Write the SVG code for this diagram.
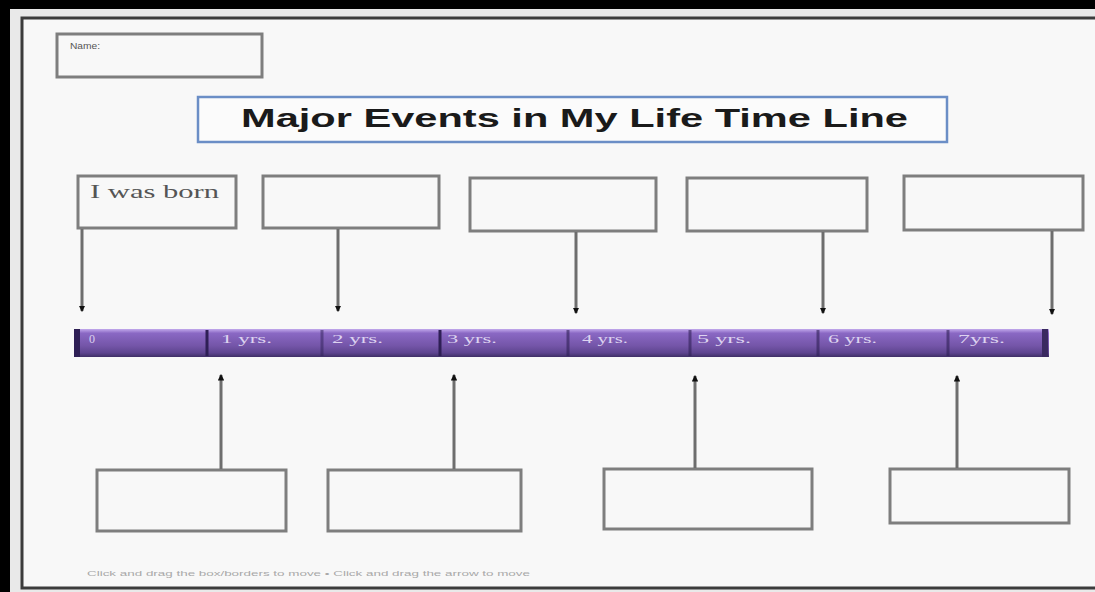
<svg xmlns="http://www.w3.org/2000/svg" width="1095" height="592" viewBox="0 0 1095 592">
<style>
.box{fill:#f8f8f8;stroke:#7e7e7e;stroke-width:3}
.conn{stroke:#6e6e6e;stroke-width:3;fill:none}
.lbl{font-family:"Liberation Serif",serif;font-size:12px;fill:#ddd3f0}
.tick{stroke:#2e1f55;stroke-width:3}
</style>
<defs>
<linearGradient id="bar" x1="0" y1="0" x2="0" y2="1">
<stop offset="0" stop-color="#c2a9ec"/>
<stop offset="0.15" stop-color="#8a68c4"/>
<stop offset="0.6" stop-color="#7455a8"/>
<stop offset="0.85" stop-color="#5e4590"/>
<stop offset="1" stop-color="#3f2f66"/>
</linearGradient>
<marker id="ah" viewBox="0 0 6 6" refX="5" refY="3" markerWidth="2.2" markerHeight="2.2" orient="auto" markerUnits="strokeWidth">
<path d="M0,0 L6,3 L0,6 Z" fill="#111"/>
</marker>
</defs>
<rect x="0" y="0" width="1095" height="592" fill="#000"/>
<rect x="10" y="9" width="1085" height="583" fill="#e9e9e9"/>
<rect x="22" y="18" width="1080" height="570" fill="#f8f8f8" stroke="#3c3c3c" stroke-width="3"/>

<g id="name-box">
<rect class="box" x="57" y="34" width="205" height="43"/>
<text x="70" y="49" font-family="Liberation Sans,sans-serif" font-size="9" fill="#555" textLength="30" lengthAdjust="spacingAndGlyphs">Name:</text>
</g>

<g id="title">
<rect x="198" y="97" width="749" height="45" fill="#fbfbfb" stroke="#6b8ec6" stroke-width="2.5"/>
<text x="241" y="127" font-family="Liberation Sans,sans-serif" font-weight="bold" font-size="26" fill="#1a1a1a" textLength="667" lengthAdjust="spacingAndGlyphs">Major Events in My Life Time Line</text>
</g>

<g id="top-box-1">
<rect class="box" x="78" y="176" width="158" height="52"/>
<text x="90" y="198" font-family="Liberation Serif,serif" font-size="18" fill="#555" textLength="129" lengthAdjust="spacingAndGlyphs">I was born</text>
</g>
<g id="top-box-2"><rect class="box" x="263" y="176" width="176" height="52"/></g>
<g id="top-box-3"><rect class="box" x="470" y="178" width="186" height="53"/></g>
<g id="top-box-4"><rect class="box" x="687" y="178" width="180" height="53"/></g>
<g id="top-box-5"><rect class="box" x="904" y="176" width="179" height="54"/></g>

<g id="timeline">
<rect x="74" y="329" width="975" height="28" fill="url(#bar)"/>
<rect x="74" y="329" width="6" height="28" fill="#2e1f55"/>
<rect x="1042" y="329" width="6" height="28" fill="#3a2a60"/>
<line class="tick" x1="207" y1="330" x2="207" y2="356"/>
<line class="tick" x1="322" y1="330" x2="322" y2="356" stroke-opacity="0.5"/>
<line class="tick" x1="440" y1="330" x2="440" y2="356"/>
<line class="tick" x1="568" y1="330" x2="568" y2="356" stroke-opacity="0.6"/>
<line class="tick" x1="690" y1="330" x2="690" y2="356" stroke-opacity="0.6"/>
<line class="tick" x1="818" y1="330" x2="818" y2="356" stroke-opacity="0.6"/>
<line class="tick" x1="948" y1="330" x2="948" y2="356" stroke-opacity="0.6"/>
<text class="lbl" x="89" y="343">0</text>
<text class="lbl" x="221" y="343" textLength="51" lengthAdjust="spacingAndGlyphs">1 yrs.</text>
<text class="lbl" x="332" y="343" textLength="51" lengthAdjust="spacingAndGlyphs">2 yrs.</text>
<text class="lbl" x="447" y="343" textLength="50" lengthAdjust="spacingAndGlyphs">3 yrs.</text>
<text class="lbl" x="582" y="343" textLength="46" lengthAdjust="spacingAndGlyphs">4 yrs.</text>
<text class="lbl" x="697" y="343" textLength="54" lengthAdjust="spacingAndGlyphs">5 yrs.</text>
<text class="lbl" x="828" y="343" textLength="49" lengthAdjust="spacingAndGlyphs">6 yrs.</text>
<text class="lbl" x="958" y="343" textLength="47" lengthAdjust="spacingAndGlyphs">7yrs.</text>
</g>

<g id="bottom-box-1"><rect class="box" x="97" y="470" width="189" height="61"/></g>
<g id="bottom-box-2"><rect class="box" x="328" y="470" width="193" height="61"/></g>
<g id="bottom-box-3"><rect class="box" x="604" y="469" width="208" height="60"/></g>
<g id="bottom-box-4"><rect class="box" x="890" y="469" width="179" height="54"/></g>

<g id="connectors">
<line class="conn" x1="82" y1="229" x2="82" y2="311" marker-end="url(#ah)" stroke="#9a9a9a"/>
<line class="conn" x1="338" y1="229" x2="338" y2="311" marker-end="url(#ah)"/>
<line class="conn" x1="576" y1="232" x2="576" y2="313" marker-end="url(#ah)" stroke="#8a8a8a"/>
<line class="conn" x1="823" y1="232" x2="823" y2="313" marker-end="url(#ah)"/>
<line class="conn" x1="1052" y1="231" x2="1052" y2="314" marker-end="url(#ah)" stroke="#8a8a8a"/>
<line class="conn" x1="221" y1="469" x2="221" y2="375" marker-end="url(#ah)" stroke="#555"/>
<line class="conn" x1="454" y1="469" x2="454" y2="375" marker-end="url(#ah)" stroke="#555"/>
<line class="conn" x1="695" y1="468" x2="695" y2="376" marker-end="url(#ah)" stroke="#555"/>
<line class="conn" x1="957" y1="468" x2="957" y2="376" marker-end="url(#ah)" stroke="#555"/>
</g>

<text x="87" y="576" font-family="Liberation Sans,sans-serif" font-size="8" fill="#a8a8a8" textLength="443" lengthAdjust="spacingAndGlyphs">Click and drag the box/borders to move • Click and drag the arrow to move</text>
</svg>
